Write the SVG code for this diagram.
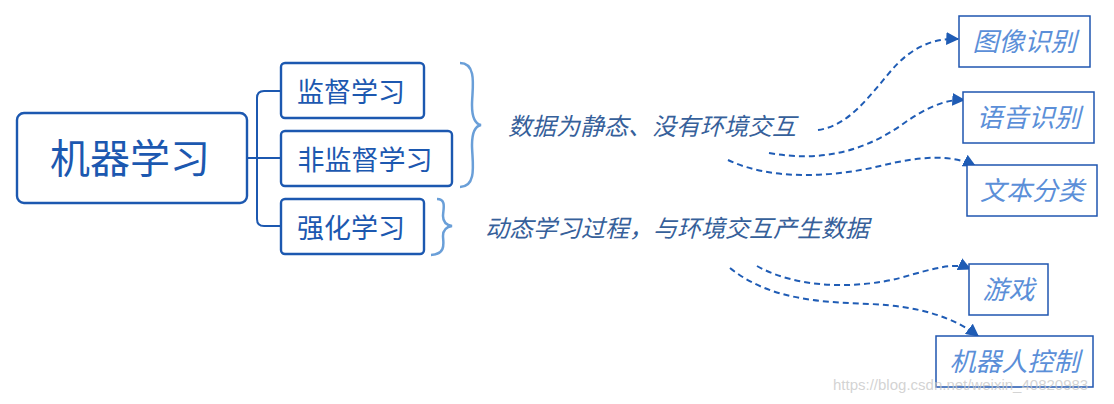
<svg xmlns="http://www.w3.org/2000/svg" width="1114" height="404" viewBox="0 0 1114 404">
<style>
.box{fill:#fff;stroke:#1c58b0;stroke-width:2.4}
.leaf{fill:#fff;stroke:#1f56b0;stroke-width:1.5}
.t{font-family:"Noto Sans CJK SC","Noto Sans",sans-serif;fill:#1c58b0}
.it{font-family:"Noto Sans CJK SC","Noto Sans",sans-serif;font-style:italic;fill:#36609a}
.lt{font-family:"Noto Sans CJK SC","Noto Sans",sans-serif;font-style:italic;fill:#5b8fd8}
.tree{fill:none;stroke:#1c58b0;stroke-width:2}
.brace{fill:none;stroke:#6a9fd8;stroke-width:2.5}
.dash{fill:none;stroke:#1f5cb5;stroke-width:2;stroke-dasharray:6 4}
</style>
<defs>
<marker id="ah" viewBox="0 0 10 10" refX="9" refY="5" markerWidth="6.5" markerHeight="6.5" orient="auto" markerUnits="strokeWidth">
<path d="M0,0 L10,5 L0,10 z" fill="#1f5cb5"/>
</marker>
</defs>
<g id="connectors">
<path class="tree" d="M247,158 H281"/>
<path class="tree" d="M281,91 H264 Q257,91 257,98 V219 Q257,226 264,226 H281"/>
<path class="brace" d="M460,63 C478,63 472,90 472,105 C472,120 476,124 481,125 C476,126 472,130 472,145 C472,160 478,187 460,187"/>
<path class="brace" d="M437,199 C447,199 443,210 443,216 C443,222 446,225 452,226 C446,227 443,230 443,236 C443,242 447,254 431,255"/>
<path class="dash" marker-end="url(#ah)" d="M818,130 C848,126 868,98 890,72 C910,48 932,38 958,39"/>
<path class="dash" marker-end="url(#ah)" d="M769,153 C820,162 862,152 900,126 C925,108 945,99 964,100"/>
<path class="dash" marker-end="url(#ah)" d="M728,160 C770,180 830,178 880,166 C920,156 952,154 975,166"/>
<path class="dash" marker-end="url(#ah)" d="M757,266 C800,290 860,288 900,278 C935,268 955,262 970,269"/>
<path class="dash" marker-end="url(#ah)" d="M730,268 C770,300 820,302 870,304 C920,306 955,318 978,336"/>
</g>
<g id="root">
<rect class="box" x="17" y="113" width="230" height="90" rx="7" stroke-width="3"/>
<text class="t" x="130" y="173" font-size="40" text-anchor="middle">机器学习</text>
</g>
<g id="supervised">
<rect class="box" x="281" y="63" width="143" height="55" rx="4"/>
<text class="t" x="351" y="102" font-size="27" text-anchor="middle">监督学习</text>
</g>
<g id="unsupervised">
<rect class="box" x="281" y="131" width="171" height="55" rx="4"/>
<text class="t" x="365" y="170" font-size="27" text-anchor="middle">非监督学习</text>
</g>
<g id="reinforcement">
<rect class="box" x="281" y="199" width="143" height="55" rx="4"/>
<text class="t" x="351" y="238" font-size="27" text-anchor="middle">强化学习</text>
</g>
<g id="note1">
<text class="it" x="508" y="135" font-size="24">数据为静态、没有环境交互</text>
</g>
<g id="note2">
<text class="it" x="485" y="237" font-size="24">动态学习过程，与环境交互产生数据</text>
</g>
<g id="image">
<rect class="leaf" x="959" y="16" width="131" height="51"/>
<text class="lt" x="1024.5" y="51" font-size="26" text-anchor="middle">图像识别</text>
</g>
<g id="speech">
<rect class="leaf" x="963" y="92" width="131" height="51"/>
<text class="lt" x="1028.5" y="127" font-size="26" text-anchor="middle">语音识别</text>
</g>
<g id="textcls">
<rect class="leaf" x="967" y="165" width="130" height="51"/>
<text class="lt" x="1032" y="200" font-size="26" text-anchor="middle">文本分类</text>
</g>
<g id="game">
<rect class="leaf" x="969" y="264" width="79" height="51"/>
<text class="lt" x="1008.5" y="299" font-size="26" text-anchor="middle">游戏</text>
</g>
<g id="robot">
<rect class="leaf" x="936" y="336" width="157" height="51"/>
<text class="lt" x="1014.5" y="371" font-size="26" text-anchor="middle">机器人控制</text>
</g>
<text x="833" y="390" font-family="Liberation Sans, Arial, sans-serif" font-size="15" fill="#c8c8c8" fill-opacity="0.8">https://blog.csdn.net/weixin_40820983</text>
</svg>
